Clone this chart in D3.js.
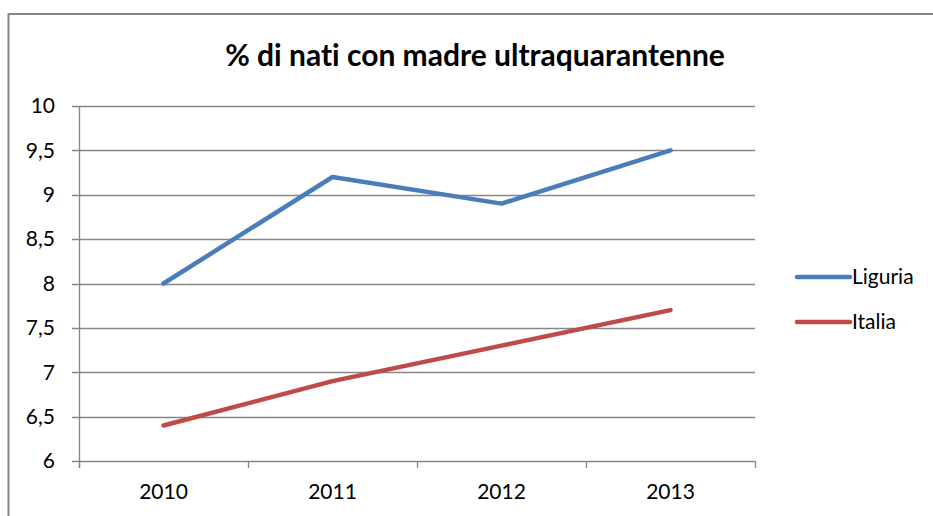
<!DOCTYPE html>
<html>
<head>
<meta charset="utf-8">
<script src="https://cdn.jsdelivr.net/npm/d3@7"></script>
<style>
  html, body { margin: 0; padding: 0; overflow: hidden; background: #fff; }
  svg { display: block; }
  text { font-family: Lato, "Open Sans", sans-serif; fill: #000; font-variant-ligatures: none; }
</style>
</head>
<body>
<svg id="chart" width="933" height="516"></svg>
<script>
// data
const years = ["2010", "2011", "2012", "2013"];
const liguria = [8, 9.2, 8.9, 9.5];
const italia = [6.4, 6.9, 7.3, 7.7];
const yTicks = [6, 6.5, 7, 7.5, 8, 8.5, 9, 9.5, 10];
const seriesNames = ["Liguria", "Italia"];
const seriesColors = ["#4a7ebb", "#be4b48"];

const svg = d3.select("#chart");
let margin = {top: 106, right: 178, bottom: 55, left: 79};
const width = 933, height = 516;

// outer chart frame: only the left and top edges are inside the picture
svg.append("path")
  .attr("d", "M8.5,516 L8.5,14 L933,14")
  .attr("fill", "none")
  .attr("stroke", "#868686")
  .attr("stroke-width", 2);

svg.append("text")
  .attr("x", 475).attr("y", 66)
  .attr("text-anchor", "middle")
  .style("font-weight", "bold")
  .style("font-size", "30px")
  .text("% di nati con madre ultraquarantenne");

const x = d3.scaleBand().domain(years)
  .range([margin.left, width - margin.right]);
const y = d3.scaleLinear().domain([6, 10])
  .range([height - margin.bottom, margin.top]);

// gridlines
svg.append("g")
  .selectAll("line")
  .data(yTicks)
  .enter()
  .append("line")
    .attr("x1", margin.left - 7)
    .attr("x2", width - margin.right)
    .attr("y1", d => Math.round(y(d)) + 0.5)
    .attr("y2", d => Math.round(y(d)) + 0.5)
    .style("stroke", "#868686")
    .style("stroke-width", 1.3);

// y axis labels
const fmt = d => String(d).replace(".", ",");
svg.append("g")
  .selectAll("text")
  .data(yTicks)
  .enter()
  .append("text")
    .attr("x", margin.left - 24)
    .attr("y", d => y(d))
    .attr("dy", "0.35em")
    .attr("text-anchor", "end")
    .style("font-size", "21px")
    .text(fmt);

// y axis line
svg.append("line")
  .attr("x1", margin.left + 0.5).attr("x2", margin.left + 0.5)
  .attr("y1", y(10)).attr("y2", y(6) + 7)
  .style("stroke", "#868686").style("stroke-width", 1.3);

// x axis ticks (category boundaries)
const bounds = years.map(d => x(d)).concat([x(years[years.length - 1]) + x.bandwidth()]);
svg.append("g")
  .selectAll("line")
  .data(bounds)
  .enter()
  .append("line")
    .attr("x1", d => Math.round(d) + 0.5)
    .attr("x2", d => Math.round(d) + 0.5)
    .attr("y1", y(6))
    .attr("y2", y(6) + 7)
    .style("stroke", "#868686")
    .style("stroke-width", 1.3);

svg.append("g")
  .selectAll("text")
  .data(years)
  .enter()
  .append("text")
    .attr("x", d => x(d) + x.bandwidth() / 2)
    .attr("y", y(6) + 38)
    .attr("text-anchor", "middle")
    .style("font-size", "21px")
    .text(d => d);

// lines
const line = d3.line()
  .x((d, i) => x(years[i]) + x.bandwidth() / 2)
  .y(d => y(d));

[liguria, italia].forEach((vals, i) => {
  svg.append("path")
    .datum(vals)
    .attr("d", line)
    .attr("fill", "none")
    .attr("stroke", seriesColors[i])
    .attr("stroke-width", 4.5)
    .attr("stroke-linecap", "round")
    .attr("stroke-linejoin", "round");
});

// legend
const legend = svg.append("g")
  .selectAll("g")
  .data(seriesNames)
  .enter()
  .append("g")
    .attr("transform", (d, i) => "translate(797," + (277 + i * 45) + ")");

legend.append("line")
  .attr("x1", 0).attr("x2", 53)
  .attr("stroke", (d, i) => seriesColors[i])
  .attr("stroke-width", 4.5)
  .attr("stroke-linecap", "round");

legend.append("text")
  .attr("x", 55)
  .attr("dy", "0.35em")
  .style("font-size", "21px")
  .text(d => d);
</script>
</body>
</html>
